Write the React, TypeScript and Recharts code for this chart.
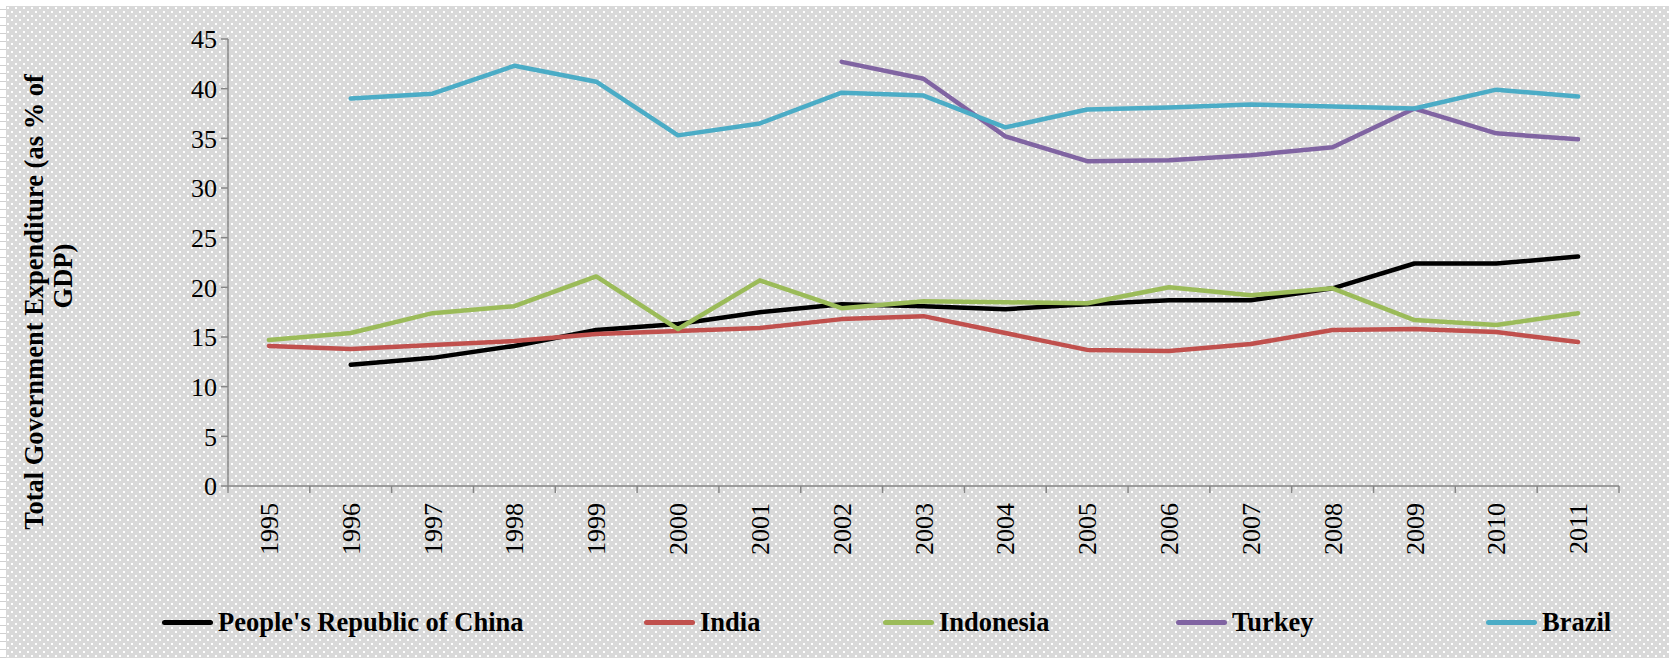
import React from "react";
import { LineChart, Line, XAxis, YAxis, Legend } from "recharts";

const years = ["1995", "1996", "1997", "1998", "1999", "2000", "2001", "2002", "2003", "2004", "2005", "2006", "2007", "2008", "2009", "2010", "2011"];
const china = [null, 12.2, 12.9, 14.1, 15.7, 16.3, 17.5, 18.3, 18.1, 17.8, 18.3, 18.7, 18.7, 19.9, 22.4, 22.4, 23.1];
const india = [14.1, 13.8, 14.2, 14.6, 15.3, 15.6, 15.9, 16.8, 17.1, 15.4, 13.7, 13.6, 14.3, 15.7, 15.8, 15.5, 14.5];
const indonesia = [14.7, 15.4, 17.4, 18.1, 21.1, 15.8, 20.7, 17.9, 18.6, 18.5, 18.4, 20.0, 19.2, 19.9, 16.7, 16.2, 17.4];
const turkey = [null, null, null, null, null, null, null, 42.7, 41.0, 35.2, 32.7, 32.8, 33.3, 34.1, 38.0, 35.5, 34.9];
const brazil = [null, 39.0, 39.5, 42.3, 40.7, 35.3, 36.5, 39.6, 39.3, 36.1, 37.9, 38.1, 38.4, 38.2, 38.0, 39.9, 39.2];
const yTicks = [0, 5, 10, 15, 20, 25, 30, 35, 40, 45];

const seriesNames = ["People's Republic of China", "India", "Indonesia", "Turkey", "Brazil"];
const seriesKeys = ["china", "india", "indonesia", "turkey", "brazil"];
const seriesValues = [china, india, indonesia, turkey, brazil];
const seriesColors = ["#000000", "#c0504d", "#9bbb59", "#8064a2", "#4bacc6"];

const data = years.map((y, i) => {
  const row: any = { year: y };
  seriesKeys.forEach((k, s) => {
    row[k] = seriesValues[s][i];
  });
  return row;
});

const W = 1669;
const H = 658;
const PLOT_LEFT = 228;
const PLOT_RIGHT = 1619;
const PLOT_TOP = 39;
const PLOT_BOTTOM = 486;
const AXIS_COLOR = "#868686";
const FONT = "'Liberation Serif', 'Times New Roman', serif";
const LEGEND_X = [162, 644, 883, 1176, 1486];

const dotPattern =
  "url(\"data:image/svg+xml;utf8," +
  encodeURIComponent(
    "<svg xmlns='http://www.w3.org/2000/svg' width='8' height='8'><rect width='8' height='8' fill='#d9d9d9'/><rect x='1' y='1' width='2' height='2' fill='#ffffff'/><rect x='5' y='5' width='2' height='2' fill='#ffffff'/></svg>"
  ) +
  "\")";

const stripPattern =
  "url(\"data:image/svg+xml;utf8," +
  encodeURIComponent(
    "<svg xmlns='http://www.w3.org/2000/svg' width='6' height='8'><rect width='6' height='8' fill='#ffffff'/><rect x='0' y='3' width='6' height='1' fill='#d0d0d0'/></svg>"
  ) +
  "\")";

const bandWidth = (PLOT_RIGHT - PLOT_LEFT) / years.length;

const XTick = (props: any) => {
  const { x, y, payload, index } = props;
  const isLast = index === years.length - 1;
  return (
    <g>
      <line x1={x - bandWidth / 2} x2={x - bandWidth / 2} y1={y} y2={y + 7} stroke={AXIS_COLOR} strokeWidth={1.5} />
      {isLast && (
        <line x1={x + bandWidth / 2} x2={x + bandWidth / 2} y1={y} y2={y + 7} stroke={AXIS_COLOR} strokeWidth={1.5} />
      )}
      <text
        x={x}
        y={y + 17}
        transform={`rotate(-90, ${x}, ${y + 17})`}
        textAnchor="end"
        dy="0.35em"
        fontFamily={FONT}
        fontSize={26}
        fill="#000"
      >
        {payload.value}
      </text>
    </g>
  );
};

const YTitle = () => (
  <g>
    <text
      x={34}
      y={302}
      transform="rotate(-90, 34, 302)"
      textAnchor="middle"
      dy="0.35em"
      fontFamily={FONT}
      fontWeight="bold"
      fontSize={26.5}
      fill="#000"
    >
      Total Government Expenditure (as % of
    </text>
    <text
      x={63}
      y={276}
      transform="rotate(-90, 63, 276)"
      textAnchor="middle"
      dy="0.35em"
      fontFamily={FONT}
      fontWeight="bold"
      fontSize={26.5}
      fill="#000"
    >
      GDP)
    </text>
  </g>
);

const LegendContent = (props: any) => {
  const payload = props.payload || [];
  return (
    <div style={{ position: "relative", width: W, height: 0 }}>
      {payload.map((p: any) => {
        const idx = seriesNames.indexOf(p.value);
        return (
          <div
            key={p.value}
            style={{
              position: "absolute",
              left: LEGEND_X[idx],
              top: 0,
              height: 30,
              display: "flex",
              alignItems: "center",
              whiteSpace: "nowrap",
            }}
          >
            <div style={{ width: 51, height: 5, borderRadius: 3, background: p.color }} />
            <span
              style={{
                marginLeft: 5,
                fontFamily: FONT,
                fontWeight: "bold",
                fontSize: 26.5,
                color: "#000",
                lineHeight: "30px",
              }}
            >
              {p.value}
            </span>
          </div>
        );
      })}
    </div>
  );
};

export default function App() {
  return (
    <div style={{ position: "absolute", left: 0, top: 0, width: W, height: H, background: "#ffffff", overflow: "hidden" }}>
      <div style={{ position: "absolute", left: 0, top: 6, width: 6, height: H - 6, backgroundImage: stripPattern }} />
      <div style={{ position: "absolute", left: 6, top: 6, width: W - 6, height: H - 6, backgroundImage: dotPattern }} />
      <div style={{ position: "absolute", left: 0, top: 0 }}>
        <LineChart width={W} height={H} data={data} margin={{ top: PLOT_TOP, right: W - PLOT_RIGHT, bottom: 0, left: 0 }}>
          <XAxis
            dataKey="year"
            scale="band"
            height={H - PLOT_BOTTOM}
            tickSize={0}
            tickMargin={0}
            tickLine={false}
            interval={0}
            axisLine={{ stroke: AXIS_COLOR, strokeWidth: 1.5 }}
            tick={<XTick />}
          />
          <YAxis
            width={PLOT_LEFT}
            domain={[0, 45]}
            ticks={yTicks}
            interval={0}
            tickSize={7}
            tickMargin={4}
            axisLine={{ stroke: AXIS_COLOR, strokeWidth: 1.5 }}
            tickLine={{ stroke: AXIS_COLOR, strokeWidth: 1.5 }}
            tick={{ fontFamily: FONT, fontSize: 26, fill: "#000" }}
            label={{ content: () => <YTitle /> }}
          />
          <Legend
            verticalAlign="bottom"
            itemSorter={null as any}
            content={<LegendContent />}
            wrapperStyle={{ position: "absolute", left: 0, top: 607, width: W, height: 0 }}
          />
          {seriesKeys.map((k, s) => (
            <Line
              key={k}
              dataKey={k}
              name={seriesNames[s]}
              stroke={seriesColors[s]}
              strokeWidth={4.5}
              strokeLinecap="round"
              strokeLinejoin="round"
              dot={false}
              activeDot={false}
              connectNulls={false}
              isAnimationActive={false}
            />
          ))}
        </LineChart>
      </div>
    </div>
  );
}
